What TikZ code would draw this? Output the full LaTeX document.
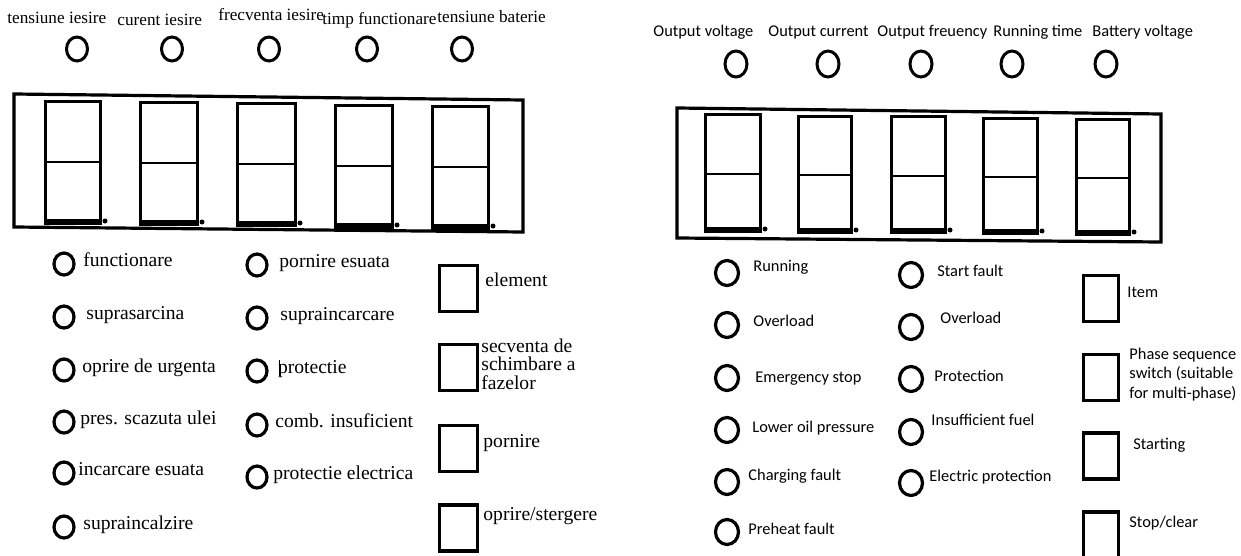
\documentclass[tikz,border=0pt]{standalone}
\usepackage{fontspec}
\setmainfont{Liberation Serif}
\newfontfamily\sansf{Carlito}
\usetikzlibrary{shapes.geometric}
\begin{document}
\begin{tikzpicture}[x=0.5pt,y=-0.5pt,
  lampTL/.style={draw, ellipse, line width=1.5pt, minimum width=10.5pt, minimum height=12pt, inner sep=0pt},
  lampBL/.style={draw, ellipse, line width=1.6pt, minimum width=10pt, minimum height=11pt, inner sep=0pt},
  lampTR/.style={draw, ellipse, line width=1.5pt, minimum width=11pt, minimum height=13pt, inner sep=0pt},
  lampBR/.style={draw, ellipse, line width=1.6pt, minimum width=11.5pt, minimum height=12.5pt, inner sep=0pt},
  keyL/.style={draw, line width=1.6pt, minimum width=19pt, minimum height=23pt, inner sep=0pt},
  keyR/.style={draw, line width=1.6pt, minimum width=17.5pt, minimum height=23pt, inner sep=0pt},
  frame/.style={line width=1.6pt, line join=miter},
  segbox/.style={line width=1.5pt},
  segmid/.style={line width=1pt},
  toplabL/.style={anchor=west, inner sep=0pt, font=\fontsize{8.6}{10}\selectfont, text height=6pt, text depth=1.7pt},
  labL/.style={anchor=west, inner sep=0pt, font=\fontsize{9.8}{9.25}\selectfont, text height=6.9pt, text depth=2pt},
  labLm/.style={anchor=west, inner sep=0pt, font=\fontsize{9.8}{9.25}\selectfont, align=left},
  labR/.style={anchor=west, inner sep=0pt, font=\sansf\fontsize{8.2}{9.75}\selectfont, text height=5.8pt, text depth=1.7pt},
  labRm/.style={anchor=west, inner sep=0pt, font=\sansf\fontsize{8.2}{9.75}\selectfont, align=left}
]
\useasboundingbox (0,0) rectangle (1241,556);

% ================= LEFT PANEL =================
\node[toplabL] (tl1) at (7,19) {tensiune iesire};
\node[toplabL] (tl2) at (117,21) {curent iesire};
\node[toplabL] (tl3) at (218,16) {frecventa iesire};
\node[toplabL] (tl4) at (322,20) {timp functionare};
\node[toplabL] (tl5) at (437,18) {tensiune baterie};

\node[lampTL] (ltA) at (77,49) {};
\node[lampTL] (ltB) at (172,49) {};
\node[lampTL] (ltC) at (269,49) {};
\node[lampTL] (ltD) at (367,49) {};
\node[lampTL] (ltE) at (462,49) {};

\draw[frame] (14,94) -- (523,100) -- (523,232) -- (14,227) -- cycle;
\foreach \xa/\xb/\yt/\ym/\yb in {45/100/102/162/224, 140/197/103/163/225, 237/295/104/164/226, 335/392/106/166/228, 432/488/107/167/229}{
  \draw[segbox] (\xa,\yb) -- (\xa,\yt) -- (\xb,\yt) -- (\xb,\yb);
  \draw[segmid] (\xa,\ym) -- (\xb,\ym);
  \fill (\xa-1.5,\yb-5) rectangle (\xb+1.5,\yb+1);
  \fill (\xb+5,\yb-3) circle (1.25pt);
}

\node[lampBL] (la1) at (64,264) {};
\node[lampBL] (la2) at (64,317) {};
\node[lampBL] (la3) at (64,370) {};
\node[lampBL] (la4) at (64,422) {};
\node[lampBL] (la5) at (64,473) {};
\node[lampBL] (la6) at (64,527) {};
\node[labL] (lat1) at (83,262) {functionare};
\node[labL] (lat2) at (86,315) {suprasarcina};
\node[labL] (lat3) at (82,368) {oprire de urgenta};
\node[labL] (lat4) at (80,420) {pres. scazuta ulei};
\node[labL] (lat5) at (78,471) {incarcare esuata};
\node[labL] (lat6) at (83,525) {supraincalzire};

\node[lampBL] (lb1) at (257,265) {};
\node[lampBL] (lb2) at (257,318) {};
\node[lampBL] (lb3) at (257,371) {};
\node[lampBL] (lb4) at (257,425) {};
\node[lampBL] (lb5) at (257,477) {};
\node[labL] (lbt1) at (279,263) {pornire esuata};
\node[labL] (lbt2) at (280,316) {supraincarcare};
\node[labL] (lbt3) at (279,369) {\rule[-1pt]{0.5pt}{8pt}\kern-1.2pt protectie};
\node[labL] (lbt4) at (275,423) {comb. insuficient};
\node[labL] (lbt5) at (273,475) {protectie electrica};

\node[keyL] (lk1) at (458.5,288.5) {};
\node[keyL] (lk2) at (458.5,367.5) {};
\node[keyL] (lk3) at (458.5,448.5) {};
\node[keyL] (lk4) at (458.5,528) {};
\node[labL] (lkt1) at (485,282) {element};
\node[labLm] (lkt2) at (481,364) {secventa de\\schimbare a\\fazelor};
\node[labL] (lkt3) at (483,443) {pornire};
\node[labL] (lkt4) at (483,516) {oprire/stergere};

% ================= RIGHT PANEL =================
\node[labR] (tr1) at (653,32) {Output voltage};
\node[labR] (tr2) at (768,32) {Output current};
\node[labR] (tr3) at (877,32) {Output freuency};
\node[labR] (tr4) at (993,32) {Running time};
\node[labR] (tr5) at (1092,32) {Battery voltage};

\node[lampTR] (rtA) at (736,64) {};
\node[lampTR] (rtB) at (828,64) {};
\node[lampTR] (rtC) at (921,64) {};
\node[lampTR] (rtD) at (1012,64) {};
\node[lampTR] (rtE) at (1106,64) {};

\draw[frame] (677,108) -- (1161,114) -- (1161,242) -- (677,238) -- cycle;
\foreach \xa/\xb/\yt/\ym/\yb in {705/760/115/174/232, 798/851/117/175/233, 891/945/117/176/233, 983/1037/119/177/234, 1076/1129/120/178/235}{
  \draw[segbox] (\xa,\yb) -- (\xa,\yt) -- (\xb,\yt) -- (\xb,\yb);
  \draw[segmid] (\xa,\ym) -- (\xb,\ym);
  \fill (\xa-1.5,\yb-5) rectangle (\xb+1.5,\yb+1);
  \fill (\xb+5,\yb-3) circle (1.25pt);
}

\node[lampBR] (ra1) at (727,273) {};
\node[lampBR] (ra2) at (727,325) {};
\node[lampBR] (ra3) at (727,378) {};
\node[lampBR] (ra4) at (727,430) {};
\node[lampBR] (ra5) at (727,482) {};
\node[lampBR] (ra6) at (727,532) {};
\node[labR] (rat1) at (753,267) {Running};
\node[labR] (rat2) at (753,322) {Overload};
\node[labR] (rat3) at (755,378) {Emergency stop};
\node[labR] (rat4) at (752,428) {Lower oil pressure};
\node[labR] (rat5) at (748,476) {Charging fault};
\node[labR] (rat6) at (748,530) {Preheat fault};

\node[lampBR] (rb1) at (911,275) {};
\node[lampBR] (rb2) at (911,327) {};
\node[lampBR] (rb3) at (911,379) {};
\node[lampBR] (rb4) at (911,432) {};
\node[lampBR] (rb5) at (911,483) {};
\node[labR] (rbt1) at (937,272) {Start fault};
\node[labR] (rbt2) at (940,319) {Overload};
\node[labR] (rbt3) at (934,377) {Protection};
\node[labR] (rbt4) at (931,421) {Insufficient fuel};
\node[labR] (rbt5) at (929,477) {Electric protection};

\node[keyR] (rk1) at (1101,298.5) {};
\node[keyR] (rk2) at (1101,377.5) {};
\node[keyR] (rk3) at (1101,456) {};
\node[keyR] (rk4) at (1101,535) {};
\node[labR] (rkt1) at (1127,293) {Item};
\node[labRm] (rkt2) at (1129,374.5) {Phase sequence\\switch (suitable\\for multi-phase)};
\node[labR] (rkt3) at (1133,445) {Starting};
\node[labR] (rkt4) at (1129,523) {Stop/clear};
\end{tikzpicture}
\end{document}
